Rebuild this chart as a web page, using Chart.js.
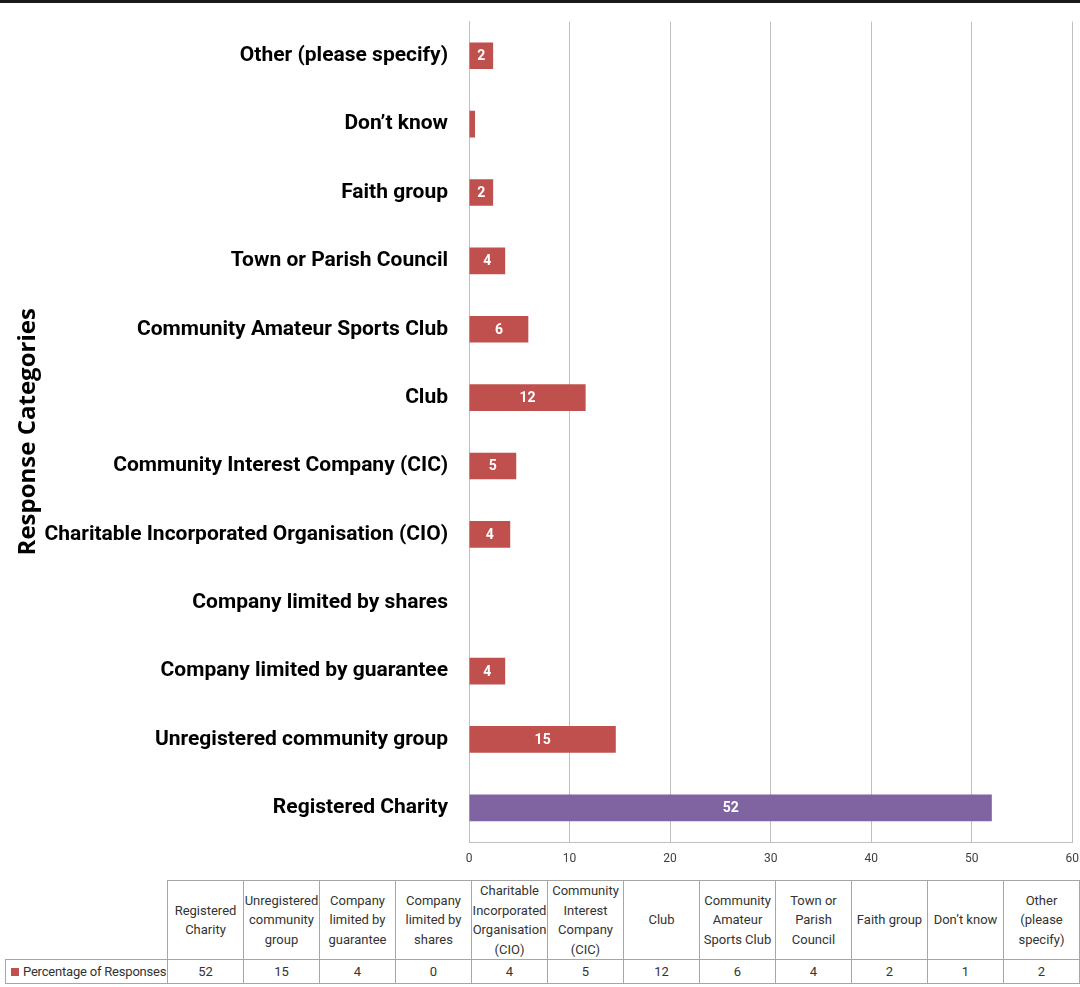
<!DOCTYPE html>
<html>
<head>
<meta charset="utf-8">
<script src="https://cdn.jsdelivr.net/npm/chart.js@4"></script>
<style>
  body { margin: 0; background: #fff; width: 1080px; height: 987px; overflow: hidden; position: relative; }
  #topline { position: absolute; left: 0; top: 0; width: 1080px; height: 3px; background: #1a1a1a; }
  #wrap { position: absolute; left: 0; top: -4px; width: 1089px; height: 878px; }
  #tbl { position: absolute; left: 5px; top: 880px; border-collapse: collapse; table-layout: fixed; width: 1074px;
    font-family: Roboto, "DejaVu Sans Condensed", sans-serif; font-size: 13px; color: #333; }
  #tbl td { border: 1px solid #a6a6a6; text-align: center; padding: 0; line-height: 19.5px; overflow: hidden; }
  #tbl tr.head td { height: 77px; }
  #tbl td.blank { border: none; border-right: 1px solid #a6a6a6; }
  #tbl tr.data td { height: 23px; }
  #tbl td.legend { text-align: left; padding-left: 5px; white-space: nowrap; letter-spacing: -0.2px; }
  .key { display: inline-block; width: 8px; height: 8px; background: #C0504D; margin-right: 4px; vertical-align: 0px; }
</style>
</head>
<body>
<div id="wrap"><canvas id="chart"></canvas></div>
<div id="topline"></div>
<table id="tbl"></table>
<script>
const categories = ["Registered Charity", "Unregistered community group", "Company limited by guarantee",
  "Company limited by shares", "Charitable Incorporated Organisation (CIO)", "Community Interest Company (CIC)",
  "Club", "Community Amateur Sports Club", "Town or Parish Council", "Faith group", "Don\u2019t know",
  "Other (please specify)"];
const tableHeads = ["Registered Charity", "Unregistered community group", "Company limited by guarantee",
  "Company limited by shares", "Charitable Incorporated Organisation (CIO)", "Community Interest Company (CIC)",
  "Club", "Community Amateur Sports Club", "Town or Parish Council", "Faith group", "Don\u2019t know",
  "Other (please specify)"];
const percentages = [52.0, 14.6, 3.6, 0, 4.1, 4.7, 11.6, 5.9, 3.6, 2.4, 0.6, 2.4];
const seriesName = "Percentage of Responses";
const xTicks = [0, 10, 20, 30, 40, 50, 60];

const barColors = categories.map((c, i) => i === 0 ? "#8064A2" : "#C0504D");
const labelFont = "Roboto, 'DejaVu Sans Condensed', sans-serif";

// value labels inside the bars
const barLabels = {
  id: "barLabels",
  afterDatasetsDraw(chart) {
    let ctx = chart.ctx;
    let meta = chart.getDatasetMeta(0);
    ctx.save();
    ctx.fillStyle = "#fff";
    ctx.font = "bold 14px " + labelFont;
    ctx.textAlign = "center";
    ctx.textBaseline = "middle";
    meta.data.forEach((bar, i) => {
      let v = percentages[i];
      let w = Math.abs(bar.x - bar.base);
      if (w < 12) return;
      ctx.fillText(String(Math.round(v)), (bar.x + bar.base) / 2, bar.y + 1);
    });
    ctx.restore();
  }
};

new Chart(document.getElementById("chart"), {
  type: "bar",
  data: {
    labels: categories,
    datasets: [{ label: seriesName, data: percentages, backgroundColor: barColors,
      barPercentage: 0.6, categoryPercentage: 0.65 }]
  },
  options: {
    indexAxis: "y",
    responsive: true,
    maintainAspectRatio: false,
    animation: false,
    layout: { padding: { top: 0, right: 0, left: 0, bottom: 0 } },
    plugins: { legend: { display: false }, tooltip: { enabled: false } },
    scales: {
      x: {
        min: 0, max: 60,
        afterBuildTicks: s => { s.ticks = xTicks.map(v => ({ value: v })); },
        afterFit: s => { s.height = 32; },
        grid: { color: "#bfbfbf", drawTicks: false },
        border: { color: "#bfbfbf" },
        ticks: { padding: 10, color: "#404040", font: { family: labelFont, size: 12 } }
      },
      y: {
        reverse: true,
        afterFit: s => { s.width = 469; },
        grid: { display: false },
        border: { color: "#bfbfbf" },
        ticks: { padding: 13, color: "#000", font: { family: labelFont, size: 21, weight: "bold" } },
        title: { display: true, text: "Response Categories", color: "#000", padding: { top: 14, bottom: 0 },
          font: { family: "'Open Sans', sans-serif", size: 24, weight: "bold" } }
      }
    }
  },
  plugins: [barLabels]
});

// data table under the chart
let tbl = document.getElementById("tbl");
let cols = "<colgroup><col style='width:162px'>" + tableHeads.map(() => "<col style='width:76px'>").join("") + "</colgroup>";
let head = "<tr class='head'><td class='blank'></td>" + tableHeads.map(h => "<td>" + h + "</td>").join("") + "</tr>";
let row = "<tr class='data'><td class='legend'><span class='key'></span>" + seriesName + "</td>" +
  percentages.map(v => "<td>" + Math.round(v) + "</td>").join("") + "</tr>";
tbl.innerHTML = cols + head + row;
</script>
</body>
</html>
